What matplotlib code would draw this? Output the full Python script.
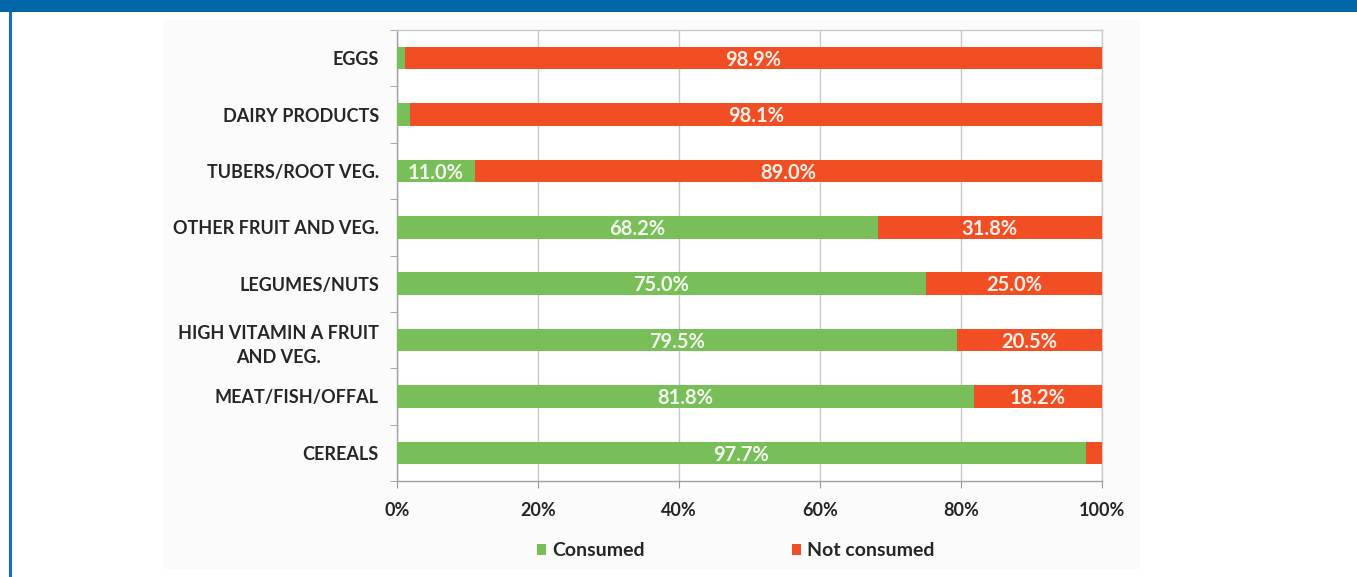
import matplotlib.pyplot as plt
from matplotlib.patches import Rectangle

plt.rcParams['font.family'] = ['Lato', 'DejaVu Sans']

# food groups, top to bottom
categories = ["EGGS", "DAIRY PRODUCTS", "TUBERS/ROOT VEG.", "OTHER FRUIT AND VEG.",
              "LEGUMES/NUTS", "HIGH VITAMIN A FRUIT\nAND VEG.", "MEAT/FISH/OFFAL", "CEREALS"]
consumed = [1.1, 1.9, 11.0, 68.2, 75.0, 79.5, 81.8, 97.7]
not_consumed = [98.9, 98.1, 89.0, 31.8, 25.0, 20.5, 18.2, 2.3]
x_ticks = [0, 20, 40, 60, 80, 100]

green = '#78BF59'
red = '#F14E23'
text_col = '#262626'

fig = plt.figure(figsize=(13.57, 5.77), dpi=100)
fig.patch.set_facecolor('white')

# frame: blue band on top, blue rule on the left, faint panel behind the chart
fig.patches.append(Rectangle((0, 1 - 12 / 577), 1, 12 / 577, transform=fig.transFigure,
                             facecolor='#0066A8', edgecolor='none', zorder=-1))
fig.patches.append(Rectangle((9 / 1357, 0), 3.5 / 1357, 1 - 12 / 577, transform=fig.transFigure,
                             facecolor='#1A6DB2', edgecolor='none', zorder=-1))
fig.patches.append(Rectangle((163 / 1357, 1 - 569 / 577), (1140 - 163) / 1357, (569 - 20) / 577,
                             transform=fig.transFigure, facecolor='#FBFBFB', edgecolor='none', zorder=-1))

ax = fig.add_axes([397 / 1357, 1 - 481 / 577, (1102 - 397) / 1357, (481 - 30) / 577])
ax.set_facecolor('white')

ypos = list(range(len(categories)))
ax.barh(ypos, consumed, height=0.4, color=green, label='Consumed', zorder=3)
ax.barh(ypos, not_consumed, left=consumed, height=0.4, color=red, label='Not consumed', zorder=3)

for y, c, n in zip(ypos, consumed, not_consumed):
    if c >= 5:
        ax.text(c / 2, y + 0.03, f"{c:.1f}%", ha='center', va='center', color='#F4FBEF',
                fontsize=14.5, fontweight='bold', zorder=4)
    if n >= 5:
        ax.text(c + n / 2, y + 0.03, f"{n:.1f}%", ha='center', va='center', color='#FFF1EA',
                fontsize=14.5, fontweight='bold', zorder=4)

ax.set_xlim(0, 100)
ax.set_ylim(len(categories) - 0.5, -0.5)
ax.set_xticks(x_ticks)
ax.set_xticklabels([f"{t}%" for t in x_ticks], fontsize=13, fontweight='bold', color=text_col)
ax.set_yticks(ypos)
ax.set_yticklabels(categories, fontsize=13, fontweight='bold', color=text_col,
                   multialignment='center')
for lbl in ax.get_yticklabels():
    lbl.set_linespacing(1.5)
ax.tick_params(axis='y', length=0, pad=13)
ax.set_yticks([i - 0.5 for i in range(len(categories) + 1)], minor=True)
ax.tick_params(axis='y', which='minor', length=5, color='#9A9A9A', direction='out')
ax.tick_params(axis='x', length=5, color='#9A9A9A', pad=10)

ax.grid(axis='x', color='#C8C8C8', linewidth=1, zorder=0)
for side, sp in ax.spines.items():
    sp.set_color('#A0A0A0')
    sp.set_linewidth(1)
ax.spines['top'].set_color('#C8C8C8')
ax.spines['right'].set_color('#C8C8C8')

fig.legend(loc='center', bbox_to_anchor=(736 / 1357, 1 - 551 / 577), ncol=2, frameon=False,
           handlelength=0.46, handleheight=0.46, handletextpad=0.3, columnspacing=7.6,
           prop={'size': 14, 'weight': 'bold'}, labelcolor=text_col)

fig.savefig('out.png', dpi=100)
